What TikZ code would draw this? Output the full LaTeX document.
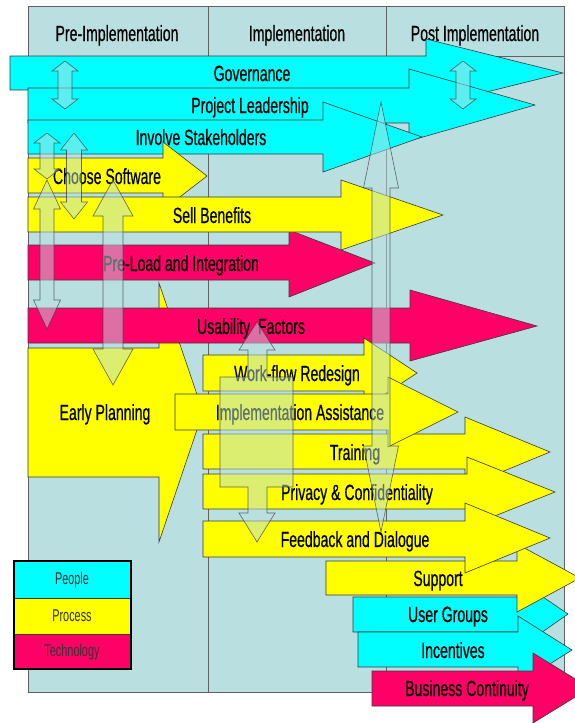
\documentclass[tikz,border=0pt]{standalone}
\usepackage{fontspec}
\setmainfont{Liberation Sans}
\newfontfamily\slidefont[FakeBold=0.6]{Liberation Sans}
\definecolor{panel}{HTML}{BADFE1}
\definecolor{pcyan}{HTML}{00FFFF}
\definecolor{pyellow}{HTML}{FFFF00}
\definecolor{pred}{HTML}{FF0066}
\definecolor{edge}{HTML}{3A3A3A}
\tikzset{
  people/.style={fill=pcyan, draw=edge, line width=0.6pt},
  process/.style={fill=pyellow, draw=edge, line width=0.6pt},
  technology/.style={fill=pred, draw=edge, line width=0.6pt},
  glass/.style={fill=panel, fill opacity=0.5, draw=edge, draw opacity=0.75, line width=0.6pt},
  lab/.style={font=\slidefont\fontsize{22}{24}\selectfont, inner sep=0pt, text height=16pt, text depth=0pt},
  keylab/.style={font=\fontsize{17}{20}\selectfont, inner sep=0pt, text=black!80},
}
% squeezed text, as in the original slide
\newcommand{\narrowtxt}[1]{\scalebox{0.64}[1]{#1}}
% block arrow pointing right: style, left x, shaft top, shaft bottom, head x, head top, head bottom, tip x, tip y
\newcommand{\harrow}[9][]{\draw[#1] (#2,#3) -- (#5,#3) -- (#5,#6) -- (#8,#9) -- (#5,#7) -- (#5,#4) -- (#2,#4) -- cycle;}
% upright double arrow: style, x, top, bottom, shaft half width, head half width, head length
\newcommand{\vdarrow}[7][]{\draw[#1] (#2,#3) -- ({#2+#6},{#3+#7}) -- ({#2+#5},{#3+#7}) -- ({#2+#5},{#4-#7}) -- ({#2+#6},{#4-#7}) -- (#2,#4) -- ({#2-#6},{#4-#7}) -- ({#2-#5},{#4-#7}) -- ({#2-#5},{#3+#7}) -- ({#2-#6},{#3+#7}) -- cycle;}
\begin{document}
\begin{tikzpicture}[x=1pt,y=-1pt]
  \useasboundingbox[fill=white] (0,0) rectangle (574,723);
  % the three phases
  \draw[fill=panel, draw=edge!80] (28,6) rectangle (564,692);
  \draw[edge!80] (28,56) -- (564,56);
  \draw[edge!80] (208,6) -- (208,692);
  \draw[edge!80] (386,6) -- (386,692);
  \node[lab] (pre) at (117,33) {\narrowtxt{Pre-Implementation}};
  \node[lab] (impl) at (297,33) {\narrowtxt{Implementation}};
  \node[lab] (post) at (475,33) {\narrowtxt{Post Implementation}};

  % rows of block arrows
  \harrow[people]{10}{56}{90}{426}{39}{107}{563}{73}
  \node[lab] (gov) at (252,73) {\narrowtxt{Governance}};
  \harrow[people]{28}{88}{123}{409}{69}{141}{535}{105}
  \node[lab] (lead) at (250,105) {\narrowtxt{Project Leadership}};
  \harrow[people]{28}{120}{154}{323}{102}{172}{422}{137}
  \node[lab] (stake) at (201,137) {\narrowtxt{Involve Stakeholders}};
  \harrow[process]{28}{158}{193}{163}{142}{210}{207}{176}
  \node[lab] (soft) at (107,176) {\narrowtxt{Choose Software}};
  \harrow[technology]{28}{245}{280}{289}{230}{297}{375}{263}
  \node[lab] (load) at (181,263) {\narrowtxt{Pre-Load and Integration}};
  \harrow[process]{28}{197}{232}{341}{180}{250}{443}{215}
  \node[lab] (sell) at (212,215) {\narrowtxt{Sell Benefits}};
  \harrow[process]{28}{348}{477}{159}{283}{542}{203}{412}
  \node[lab] (early) at (105,412) {\narrowtxt{Early Planning}};
  \harrow[technology]{28}{308}{343}{410}{290}{361}{537}{326}
  \node[lab] (usab) at (251,326) {\narrowtxt{Usability\ \ Factors}};
  \harrow[process]{203}{355}{391}{364}{338}{408}{417}{373}
  \node[lab] (flow) at (297,373) {\narrowtxt{Work-flow Redesign}};
  \harrow[process]{203}{434}{469}{465}{417}{487}{550}{452}
  \node[lab] (train) at (355,452) {\narrowtxt{Training}};
  \harrow[process]{175}{394}{430}{388}{377}{447}{458}{412}
  \node[lab] (assist) at (300,412) {\narrowtxt{Implementation Assistance}};
  \harrow[process]{203}{474}{509}{467}{457}{527}{555}{492}
  \node[lab] (priv) at (357,492) {\narrowtxt{Privacy \& Confidentiality}};
  \harrow[people]{353}{597}{632}{518}{580}{649}{568}{614}
  \node[lab] (users) at (448,614) {\narrowtxt{User Groups}};
  \harrow[process]{326}{561}{595}{517}{544}{612}{580}{578}
  \node[lab] (supp) at (438,578) {\narrowtxt{Support}};
  \harrow[process]{203}{521}{557}{465}{503}{573}{550}{538}
  \node[lab] (feed) at (355,539) {\narrowtxt{Feedback and Dialogue}};
  \harrow[people]{358}{632}{667}{518}{616}{684}{572}{650}
  \node[lab] (incent) at (453,650) {\narrowtxt{Incentives}};
  \harrow[technology]{372}{671}{706}{533}{653}{723}{590}{688}
  \node[lab] (cont) at (467,688) {\narrowtxt{Business Continuity}};

  % see-through links between rows
  \vdarrow[glass]{65}{61}{109}{7}{13}{10}
  \vdarrow[glass]{463}{61}{109}{7}{13}{10}
  \vdarrow[glass]{47}{133}{179}{7}{13}{10}
  \vdarrow[glass]{74}{133}{219}{7.5}{13.5}{17}
  \vdarrow[glass]{47}{180}{329}{7}{13.5}{29}
  \vdarrow[glass]{113}{180}{385}{10}{20}{36}
  \vdarrow[glass]{381}{102}{532}{9}{17.5}{86}
  \draw[glass] (257,322) -- (275,350) -- (267,350) -- (267,377) -- (293,377)
    -- (293,487) -- (267,487) -- (267,513) -- (275,513) -- (257,542)
    -- (239,513) -- (248,513) -- (248,487) -- (220,487) -- (220,377)
    -- (248,377) -- (248,350) -- (239,350) -- cycle;

  % key
  \draw[people, line width=0.4pt] (14,561) rectangle (131,598);
  \draw[process, line width=0.4pt] (14,598) rectangle (131,634);
  \draw[technology, line width=0.4pt] (14,634) rectangle (131,669);
  \draw[black, line width=2pt] (14,561) rectangle (131,669);
  \node[keylab] (kpeople) at (72,580) {\narrowtxt{People}};
  \node[keylab] (kprocess) at (72,616) {\narrowtxt{Process}};
  \node[keylab] (ktech) at (72,652) {\narrowtxt{Technology}};
\end{tikzpicture}
\end{document}
